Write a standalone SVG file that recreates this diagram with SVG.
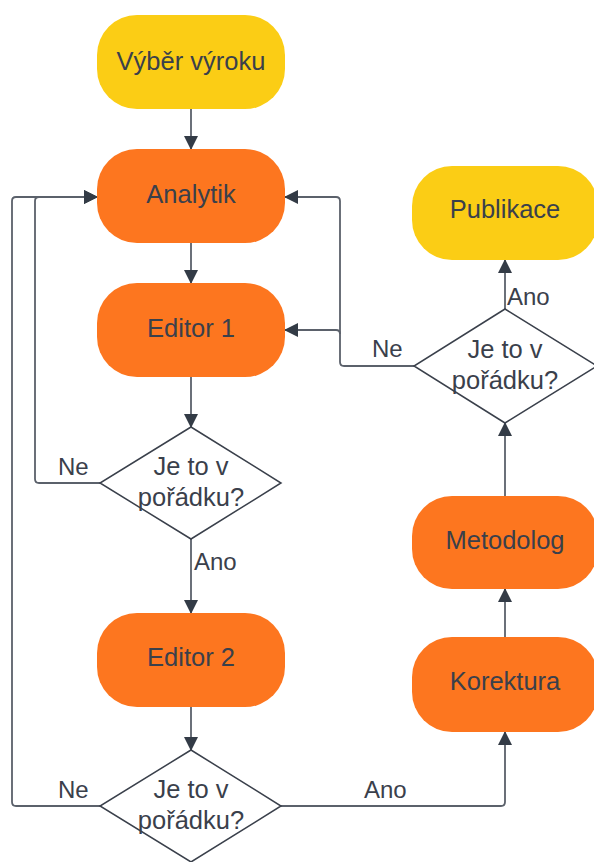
<svg xmlns="http://www.w3.org/2000/svg" width="594" height="862" viewBox="0 0 594 862">
<defs>
<marker id="ah" viewBox="0 0 14 14" markerWidth="14" markerHeight="15" refX="13" refY="7" orient="auto" markerUnits="userSpaceOnUse">
<path d="M0,0 L14,7 L0,14 Z" fill="#333b46"/>
</marker>
</defs>
<style>
.t{font-family:"Liberation Sans",Arial,sans-serif;font-size:25.5px;fill:#3a404b;text-anchor:middle}
.l{font-family:"Liberation Sans",Arial,sans-serif;font-size:24px;fill:#3a404b}
.y{fill:#fbcd15}
.o{fill:#fd761f}
.d{fill:#ffffff;stroke:#3a404b;stroke-width:1.5}
.c{fill:none;stroke:#5b616b;stroke-width:1.8;marker-end:url(#ah)}
</style>
<rect width="594" height="862" fill="#ffffff"/>
<g id="connectors">
<path class="c" d="M191,109 V149"/>
<path class="c" d="M191,243 V283"/>
<path class="c" d="M191,377 V427"/>
<path class="c" d="M191,539 V613"/>
<path class="c" d="M191,707 V750"/>
<path class="c" d="M100,483 H39 Q35,483 35,479 V201 Q35,197 39,197 H97"/>
<path class="c" d="M100,806 H16 Q12,806 12,802 V201 Q12,197 16,197 H97"/>
<path class="c" d="M281,806 H501 Q505,806 505,802 V732"/>
<path class="c" d="M505,637 V589"/>
<path class="c" d="M505,496 V423"/>
<path class="c" d="M505,309 V260"/>
<path class="c" d="M414,366 H344 Q340,366 340,362 V201 Q340,197 336,197 H285"/>
<path class="c" d="M340,334 Q340,330 336,330 H285"/>
<text class="l" x="58" y="475">Ne</text>
<text class="l" x="194" y="570">Ano</text>
<text class="l" x="58" y="798">Ne</text>
<text class="l" x="364" y="798">Ano</text>
<text class="l" x="372" y="357">Ne</text>
<text class="l" x="507" y="305">Ano</text>
</g>
<g id="vyber">
<rect class="y" x="97" y="15" width="188" height="94" rx="40"/>
<text class="t" x="191" y="70">Výběr výroku</text>
</g>
<g id="analytik">
<rect class="o" x="97" y="149" width="188" height="94" rx="40"/>
<text class="t" x="191" y="203">Analytik</text>
</g>
<g id="editor1">
<rect class="o" x="97" y="283" width="188" height="94" rx="40"/>
<text class="t" x="191" y="337">Editor 1</text>
</g>
<g id="check1">
<polygon class="d" points="191,427 281,483 191,539 100,483"/>
<text class="t" x="191" y="475">Je to v</text>
<text class="t" x="191" y="506">pořádku?</text>
</g>
<g id="editor2">
<rect class="o" x="97" y="613" width="188" height="94" rx="40"/>
<text class="t" x="191" y="666">Editor 2</text>
</g>
<g id="check2">
<polygon class="d" points="191,750 281,806 191,862 100,806"/>
<text class="t" x="191" y="798">Je to v</text>
<text class="t" x="191" y="829">pořádku?</text>
</g>
<g id="korektura">
<rect class="o" x="412" y="637" width="186" height="95" rx="40"/>
<text class="t" x="505" y="690">Korektura</text>
</g>
<g id="metodolog">
<rect class="o" x="412" y="496" width="186" height="93" rx="40"/>
<text class="t" x="505" y="549">Metodolog</text>
</g>
<g id="check3">
<polygon class="d" points="505,309 597,366 505,423 414,366"/>
<text class="t" x="505" y="358">Je to v</text>
<text class="t" x="505" y="389">pořádku?</text>
</g>
<g id="publikace">
<rect class="y" x="412" y="166" width="186" height="94" rx="40"/>
<text class="t" x="505" y="218">Publikace</text>
</g>
</svg>
